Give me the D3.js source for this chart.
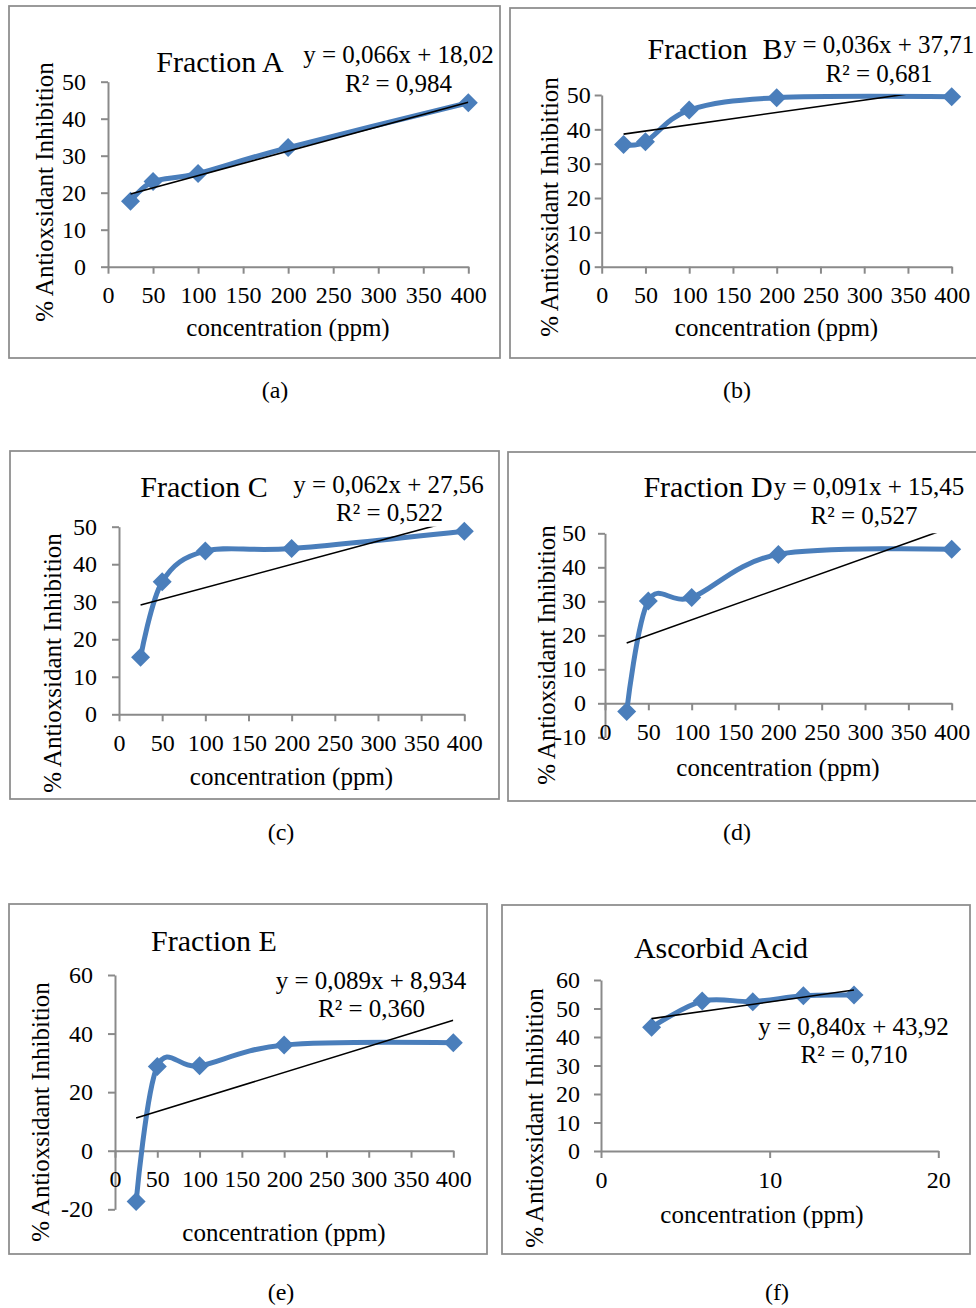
<!DOCTYPE html>
<html lang="en">
<head>
<meta charset="UTF-8">
<title>Antioxidant inhibition by fraction</title>
<script src="https://cdn.jsdelivr.net/npm/d3@7"></script>
<style>
    body { margin: 0; background: #fff; }
    svg { display: block; font-family: "Liberation Serif", "Times New Roman", serif; }
    .box { fill: none; stroke: #8c8c8c; stroke-width: 1.75px; }
    .axis path, .axis line { stroke: #8a8a8a; stroke-width: 2px; }
    .axis text { fill: #000; }
    .series { fill: none; stroke: #4a7ebb; stroke-width: 5px; stroke-linejoin: round; }
    .marker { fill: #4a7ebb; }
    .trend { stroke: #000; stroke-width: 1.6px; }
</style>
</head>
<body>
<div id="chart"></div>
<script>
    // ---------------- data ----------------
    const concentrations = [25, 50, 100, 200, 400];
    const fractionA = [17.7, 23.0, 25.2, 32.2, 44.3];
    const fractionB = [35.6, 36.4, 45.6, 49.2, 49.5];
    const fractionC = [15.2, 35.3, 43.5, 44.2, 48.8];
    const fractionD = [-2.4, 30.1, 31.1, 43.8, 45.3];
    const fractionE = [-17.3, 28.8, 29.0, 36.1, 36.9];
    const ascorbicConc = [3, 6, 9, 12, 15];
    const ascorbicAcid = [43.4, 52.6, 52.4, 54.5, 54.7];

    // linear trendlines (slope, intercept) as printed on each chart
    const trendSlopes = [0.066, 0.036, 0.062, 0.091, 0.089, 0.840];
    const trendIntercepts = [18.02, 37.71, 27.56, 15.45, 8.934, 43.92];
    const equationLabels = ["y = 0,066x + 18,02", "y = 0,036x + 37,71", "y = 0,062x + 27,56",
                            "y = 0,091x + 15,45", "y = 0,089x + 8,934", "y = 0,840x + 43,92"];
    const r2Labels = ["R² = 0,984", "R² = 0,681", "R² = 0,522", "R² = 0,527", "R² = 0,360", "R² = 0,710"];

    const titles = ["Fraction A", "Fraction\u00a0\u00a0B", "Fraction C", "Fraction D", "Fraction E", "Ascorbid Acid"];
    const subCaptions = ["(a)", "(b)", "(c)", "(d)", "(e)", "(f)"];

    // axis ticks
    const fractionXTicks = [0, 50, 100, 150, 200, 250, 300, 350, 400];
    const ascorbicXTicks = [0, 10, 20];
    const yTicks50 = [0, 10, 20, 30, 40, 50];
    const yTicksD = [-10, 0, 10, 20, 30, 40, 50];
    const yTicksE = [-20, 0, 20, 40, 60];
    const yTicks60 = [0, 10, 20, 30, 40, 50, 60];

    const xLabel = "concentration (ppm)";
    const yLabel = "% Antioxsidant Inhibition";

    // ---------------- panel layout ----------------
    const panels = [
        { xs: concentrations, ys: fractionA, xDomain: [0, 400], yDomain: [0, 50], xTicks: fractionXTicks, yTicks: yTicks50,
          box: [9, 6, 500, 358], plot: [108, 468.3, 81.7, 266.7], yPad: 22, trendX: [25, 400],
          title: [220, 72], eq: [398.5, 63], r2: [398.5, 92], yTitle: [53, 192], xTitle: [288, 336], sub: [275, 398] },
        { xs: concentrations, ys: fractionB, xDomain: [0, 400], yDomain: [0, 50], xTicks: fractionXTicks, yTicks: yTicks50,
          box: [510, 8, 995, 358], plot: [601.7, 951.7, 95, 266.7], yPad: 11, trendX: [25, 400],
          title: [715, 59], eq: [879, 53], r2: [879, 82], yTitle: [558, 207], xTitle: [776.5, 336], sub: [737, 398] },
        { xs: concentrations, ys: fractionC, xDomain: [0, 400], yDomain: [0, 50], xTicks: fractionXTicks, yTicks: yTicks50,
          box: [10, 451, 499, 799], plot: [119, 464.3, 526.7, 714.3], yPad: 22, trendX: [25, 400],
          title: [204, 497], eq: [388.5, 493], r2: [389.5, 521], yTitle: [61, 663], xTitle: [291.5, 785], sub: [281, 840] },
        { xs: concentrations, ys: fractionD, xDomain: [0, 400], yDomain: [-10, 50], xTicks: fractionXTicks, yTicks: yTicksD,
          box: [508, 452, 995, 801], plot: [605, 951.7, 533.3, 737.3], yPad: 19, trendX: [25, 400],
          title: [708, 497], eq: [869, 495], r2: [864, 524], yTitle: [555, 655], xTitle: [778, 776], sub: [737, 840] },
        { xs: concentrations, ys: fractionE, xDomain: [0, 400], yDomain: [-20, 60], xTicks: fractionXTicks, yTicks: yTicksE,
          box: [9, 904, 487, 1254], plot: [115, 453.3, 975, 1209.3], yPad: 22, trendX: [25, 400],
          title: [214, 951], eq: [371, 989], r2: [371.5, 1017], yTitle: [49, 1112], xTitle: [284, 1241], sub: [281, 1300] },
        { xs: ascorbicConc, ys: ascorbicAcid, xDomain: [0, 20], yDomain: [0, 60], xTicks: ascorbicXTicks, yTicks: yTicks60,
          box: [502, 905, 970, 1254], plot: [601, 938.3, 980, 1151], yPad: 21, trendX: [3, 15],
          title: [721, 958], eq: [853.5, 1035], r2: [854, 1063], yTitle: [543, 1118], xTitle: [762, 1223], sub: [777, 1300] }
    ];

    const svg = d3.select("#chart").append("svg")
        .attr("width", 976)
        .attr("height", 1308);

    const smooth = d3.line().curve(d3.curveCardinal.tension(0));
    const plain = d => String(d);   // keep the hyphen minus, as in the original

    panels.forEach((p, i) => {
        const x = d3.scaleLinear().domain(p.xDomain).range([p.plot[0], p.plot[1]]);
        const y = d3.scaleLinear().domain(p.yDomain).range([p.plot[3], p.plot[2]]);
        const g = svg.append("g");

        // outer frame
        g.append("rect").attr("class", "box")
            .attr("x", p.box[0]).attr("y", p.box[1])
            .attr("width", p.box[2] - p.box[0]).attr("height", p.box[3] - p.box[1]);

        // y axis
        const yAxis = g.append("g").attr("class", "axis")
            .attr("transform", `translate(${p.plot[0]},0)`)
            .call(d3.axisLeft(y).tickValues(p.yTicks).tickFormat(plain)
                .tickSize(7).tickSizeOuter(0).tickPadding(p.yPad - 7));
        yAxis.attr("font-family", null).attr("font-size", 24);

        // x axis sits on y = 0
        const xAxis = g.append("g").attr("class", "axis")
            .attr("transform", `translate(0,${y(0)})`)
            .call(d3.axisBottom(x).tickValues(p.xTicks).tickFormat(plain).tickSize(7).tickSizeOuter(0));
        xAxis.attr("font-family", null).attr("font-size", 24);
        xAxis.selectAll("text").attr("y", 36.5).attr("dy", null);

        // data series (smoothed) and diamond markers
        const pts = p.xs.map((v, k) => [x(v), y(p.ys[k])]);
        g.append("path").attr("class", "series").attr("d", smooth(pts));
        g.selectAll(".marker").data(pts).enter().append("path")
            .attr("class", "marker")
            .attr("d", d => `M${d[0]},${d[1] - 9.5}L${d[0] + 9.5},${d[1]}L${d[0]},${d[1] + 9.5}L${d[0] - 9.5},${d[1]}Z`);

        // linear trendline, clipped to the plot area
        const clipId = "clip" + i;
        g.append("clipPath").attr("id", clipId).append("rect")
            .attr("x", p.plot[0]).attr("y", p.plot[2])
            .attr("width", p.plot[1] - p.plot[0]).attr("height", p.plot[3] - p.plot[2]);
        const tx = p.trendX;
        g.append("line").attr("class", "trend")
            .attr("clip-path", `url(#${clipId})`)
            .attr("x1", x(tx[0])).attr("y1", y(trendSlopes[i] * tx[0] + trendIntercepts[i]))
            .attr("x2", x(tx[1])).attr("y2", y(trendSlopes[i] * tx[1] + trendIntercepts[i]));

        // texts
        g.append("text").attr("x", p.title[0]).attr("y", p.title[1])
            .attr("text-anchor", "middle").attr("font-size", 30).text(titles[i]);
        g.append("text").attr("x", p.eq[0]).attr("y", p.eq[1])
            .attr("text-anchor", "middle").attr("font-size", 25).text(equationLabels[i]);
        g.append("text").attr("x", p.r2[0]).attr("y", p.r2[1])
            .attr("text-anchor", "middle").attr("font-size", 25).text(r2Labels[i]);
        g.append("text")
            .attr("transform", `translate(${p.yTitle[0]},${p.yTitle[1]}) rotate(-90)`)
            .attr("text-anchor", "middle").attr("font-size", 25).text(yLabel);
        g.append("text").attr("x", p.xTitle[0]).attr("y", p.xTitle[1])
            .attr("text-anchor", "middle").attr("font-size", 25).text(xLabel);
        g.append("text").attr("x", p.sub[0]).attr("y", p.sub[1])
            .attr("text-anchor", "middle").attr("font-size", 24).text(subCaptions[i]);
    });
</script>
</body>
</html>
